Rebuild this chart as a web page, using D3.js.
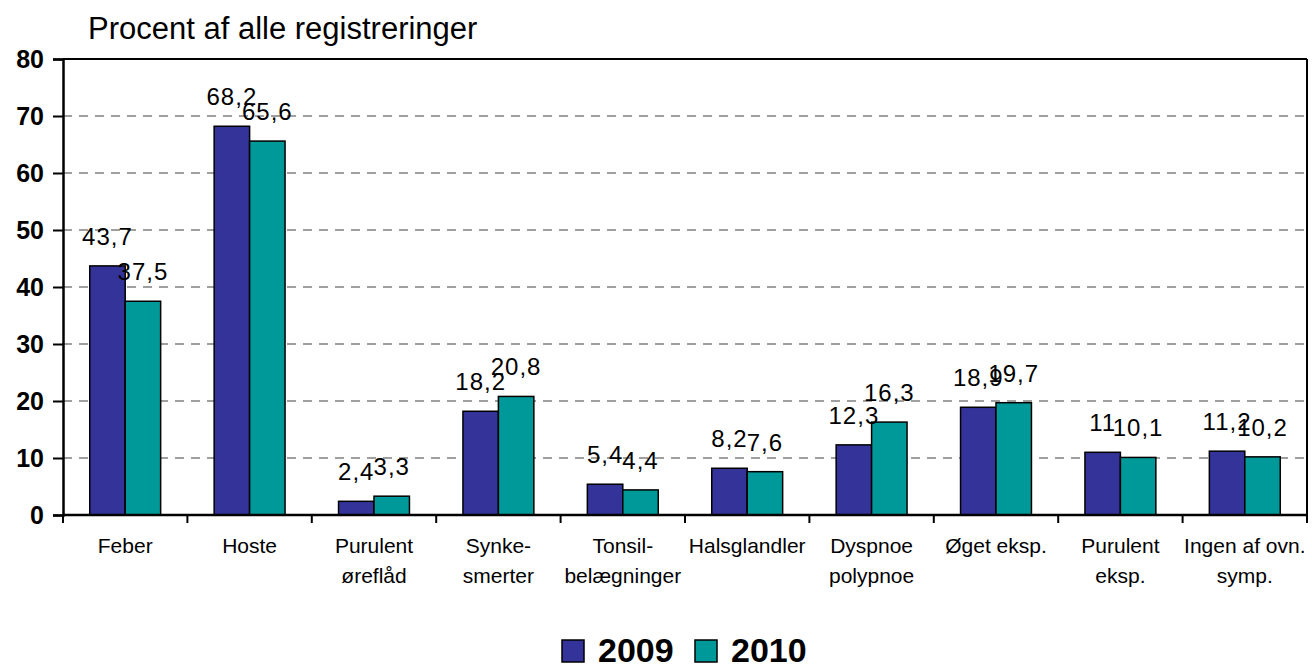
<!DOCTYPE html>
<html>
<head>
<meta charset="utf-8">
<script src="https://cdn.jsdelivr.net/npm/d3@7"></script>
<style>
  body { margin: 0; background: #fff; }
  text { font-family: "Liberation Sans", Arial, sans-serif; }
</style>
</head>
<body>
<div id="chart"></div>
<script>
// data
const categories = [
  ["Feber"], ["Hoste"], ["Purulent", "ørefl\u00e5d"], ["Synke-", "smerter"],
  ["Tonsil-", "belægninger"], ["Halsglandler"], ["Dyspnoe", "polypnoe"],
  ["Øget eksp."], ["Purulent", "eksp."], ["Ingen af ovn.", "symp."]
];
const seriesNames = ["2009", "2010"];
const values2009 = [43.7, 68.2, 2.4, 18.2, 5.4, 8.2, 12.3, 18.9, 11, 11.2];
const values2010 = [37.5, 65.6, 3.3, 20.8, 4.4, 7.6, 16.3, 19.7, 10.1, 10.2];
const yTicks = [0, 10, 20, 30, 40, 50, 60, 70, 80];
const colors = ["#333399", "#009999"];

const width = 1312;
const height = 664;
const plot = { left: 63, right: 1307, top: 59, bottom: 515 };

const svg = d3.select("#chart")
  .append("svg")
  .attr("width", width)
  .attr("height", height);

svg.append("rect").attr("width", width).attr("height", height).attr("fill", "#fff");

const keys = categories.map((c, i) => i);

const x = d3.scaleBand()
  .domain(keys)
  .range([plot.left, plot.right])
  .paddingInner(0.43)
  .paddingOuter(0.215);

const xSeries = d3.scaleBand()
  .domain(seriesNames)
  .range([0, x.bandwidth()]);

const y = d3.scaleLinear()
  .domain([0, 80])
  .range([plot.bottom, plot.top]);

// dashed gridlines
svg.append("g")
  .selectAll("line")
  .data(yTicks.filter(t => t > 0 && t < 80))
  .enter()
  .append("line")
  .attr("x1", plot.left)
  .attr("x2", plot.right)
  .attr("y1", d => y(d))
  .attr("y2", d => y(d))
  .attr("stroke", "#808080")
  .attr("stroke-width", 1.5)
  .attr("stroke-dasharray", "9,7");

// top and right frame
svg.append("line")
  .attr("x1", plot.left).attr("x2", plot.right)
  .attr("y1", plot.top).attr("y2", plot.top)
  .attr("stroke", "#000").attr("stroke-width", 2);
svg.append("line")
  .attr("x1", plot.right).attr("x2", plot.right)
  .attr("y1", plot.top).attr("y2", plot.bottom)
  .attr("stroke", "#000").attr("stroke-width", 2);

// bars
const rows = keys.map(i => ({ i, vals: [values2009[i], values2010[i]] }));

const groups = svg.append("g")
  .selectAll("g")
  .data(rows)
  .enter()
  .append("g")
  .attr("transform", d => `translate(${x(d.i)},0)`);

groups.selectAll("rect")
  .data(d => d.vals.map((v, s) => ({ v, s })))
  .enter()
  .append("rect")
  .attr("x", d => xSeries(seriesNames[d.s]))
  .attr("y", d => y(d.v))
  .attr("width", xSeries.bandwidth())
  .attr("height", d => y(0) - y(d.v))
  .attr("fill", d => colors[d.s])
  .attr("stroke", "#000")
  .attr("stroke-width", 1.5);

// value labels above each bar
const fmt = v => String(v).replace(".", ",");
groups.selectAll("text")
  .data(d => d.vals.map((v, s) => ({ v, s })))
  .enter()
  .append("text")
  .attr("x", d => xSeries(seriesNames[d.s]) + xSeries.bandwidth() / 2)
  .attr("y", d => y(d.v) - 21)
  .attr("text-anchor", "middle")
  .attr("font-size", 24)
  .attr("letter-spacing", 1)
  .attr("fill", "#000")
  .text(d => fmt(d.v));

// y axis
const yAxis = svg.append("g")
  .attr("transform", `translate(${plot.left},0)`)
  .call(d3.axisLeft(y).tickValues(yTicks).tickSize(10).tickPadding(9).tickFormat(d3.format("d")));
yAxis.select(".domain").attr("stroke", "#000").attr("stroke-width", 2.5);
yAxis.selectAll(".tick line").attr("stroke", "#000").attr("stroke-width", 2);
yAxis.selectAll(".tick text")
  .attr("font-size", 25)
  .attr("font-weight", "bold")
  .attr("font-family", "Liberation Sans, Arial, sans-serif")
  .attr("fill", "#000");

// x axis: ticks at category boundaries
const step = x.step();
const boundaries = d3.range(categories.length + 1).map(k => plot.left + k * step);
svg.append("line")
  .attr("x1", plot.left).attr("x2", plot.right)
  .attr("y1", plot.bottom).attr("y2", plot.bottom)
  .attr("stroke", "#000").attr("stroke-width", 2.5);
svg.append("g")
  .selectAll("line")
  .data(boundaries)
  .enter()
  .append("line")
  .attr("x1", d => d).attr("x2", d => d)
  .attr("y1", plot.bottom).attr("y2", plot.bottom + 8)
  .attr("stroke", "#000").attr("stroke-width", 2);

const catLabels = svg.append("g")
  .selectAll("text")
  .data(keys)
  .enter()
  .append("text")
  .attr("x", i => x(i) + x.bandwidth() / 2)
  .attr("y", 553)
  .attr("text-anchor", "middle")
  .attr("font-size", 21)
  .attr("fill", "#000");
catLabels.selectAll("tspan")
  .data(i => categories[i])
  .enter()
  .append("tspan")
  .attr("x", function () { return d3.select(this.parentNode).attr("x"); })
  .attr("dy", (d, k) => k === 0 ? 0 : 30)
  .text(d => d);

// title
svg.append("text")
  .attr("x", 88)
  .attr("y", 39)
  .attr("font-size", 31)
  .attr("fill", "#000")
  .text("Procent af alle registreringer");

// legend
const legend = svg.append("g");
const legendX = [562, 695];
seriesNames.forEach((name, s) => {
  legend.append("rect")
    .attr("x", legendX[s])
    .attr("y", 640)
    .attr("width", 22)
    .attr("height", 22)
    .attr("fill", colors[s])
    .attr("stroke", "#000")
    .attr("stroke-width", 1.5);
  legend.append("text")
    .attr("x", legendX[s] + 36)
    .attr("y", 662)
    .attr("font-size", 34)
    .attr("font-weight", "bold")
    .attr("fill", "#000")
    .text(name);
});
</script>
</body>
</html>
